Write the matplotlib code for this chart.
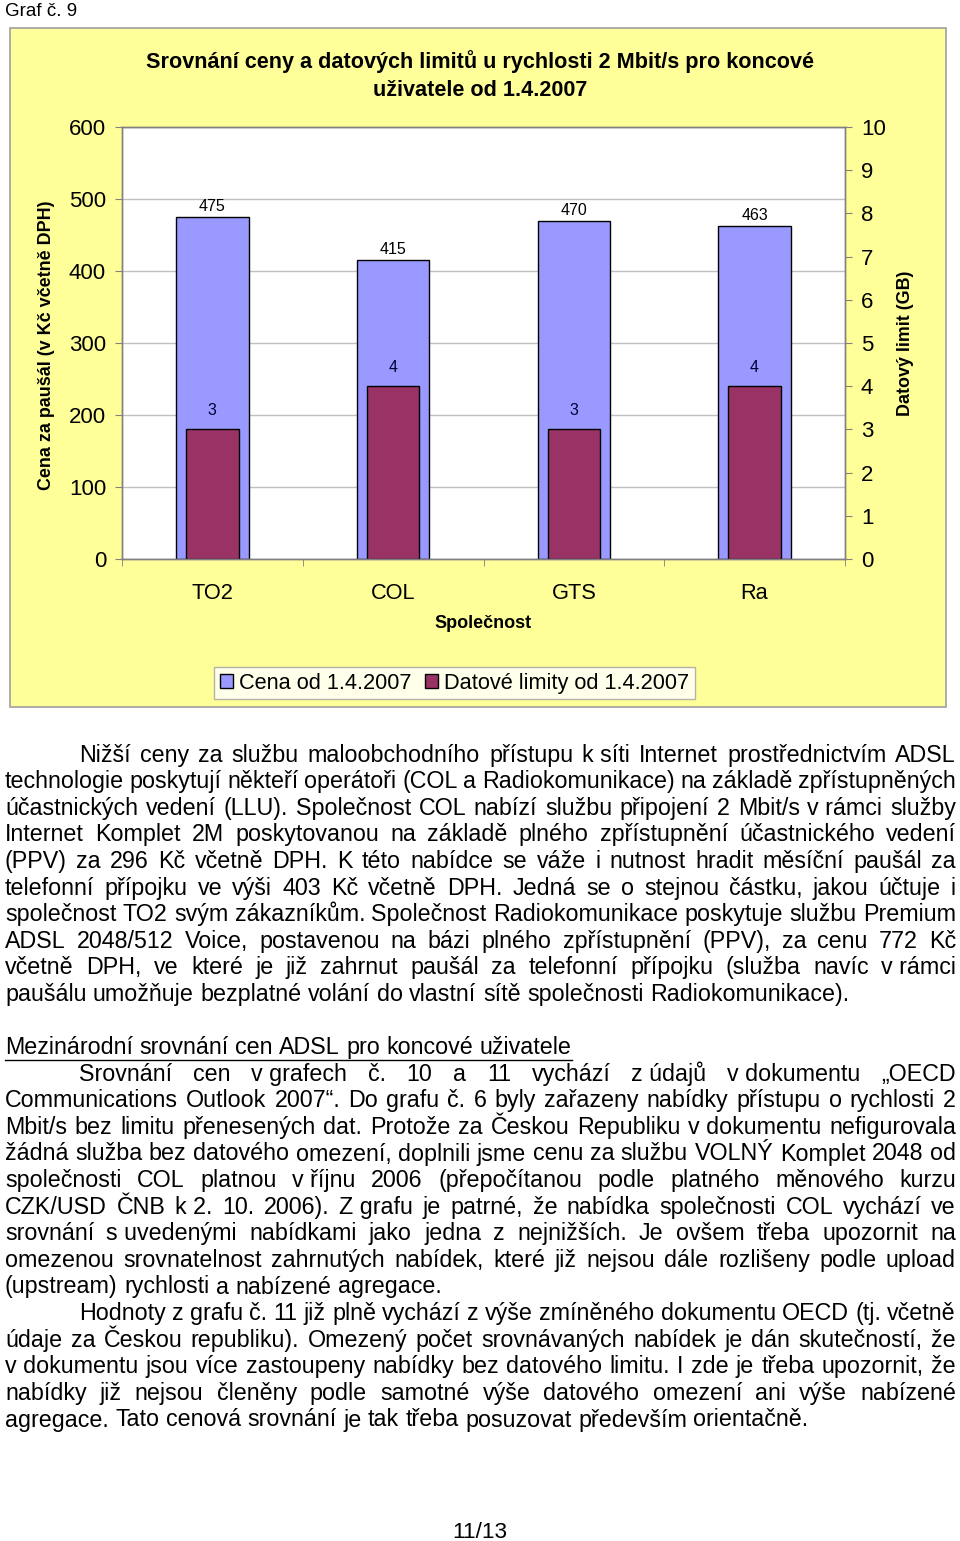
import matplotlib
matplotlib.use("Agg")
import matplotlib.pyplot as plt
from matplotlib.patches import Rectangle
import numpy as np

W, H = 960, 1541

# data of the chart
spolecnosti = ["TO2", "COL", "GTS", "Ra"]
cena = [475, 415, 470, 463]
limity = [3, 4, 3, 4]
cena_ticks = [0, 100, 200, 300, 400, 500, 600]
limit_ticks = list(range(11))

titulek = ["Srovnání ceny a datových limitů u rychlosti 2 Mbit/s pro koncové",
           "uživatele od 1.4.2007"]
legenda = ["Cena od 1.4.2007", "Datové limity od 1.4.2007"]

# page text, line by line as in the document
odstavec1 = [
    "Nižší ceny za službu maloobchodního přístupu k\u00a0síti Internet prostřednictvím ADSL",
    "technologie poskytují někteří operátoři (COL a Radiokomunikace) na základě zpřístupněných",
    "účastnických vedení (LLU). Společnost COL nabízí službu připojení 2 Mbit/s v\u00a0rámci služby",
    "Internet Komplet 2M poskytovanou na základě plného zpřístupnění účastnického vedení",
    "(PPV) za 296 Kč včetně DPH. K této nabídce se váže i nutnost hradit měsíční paušál za",
    "telefonní přípojku ve výši 403 Kč včetně DPH. Jedná se o stejnou částku, jakou účtuje i",
    "společnost TO2 svým zákazníkům. Společnost Radiokomunikace poskytuje službu Premium",
    "ADSL 2048/512 Voice, postavenou na bázi plného zpřístupnění (PPV), za cenu 772 Kč",
    "včetně DPH, ve které je již zahrnut paušál za telefonní přípojku (služba navíc v\u00a0rámci",
    "paušálu umožňuje bezplatné volání do vlastní sítě společnosti Radiokomunikace).",
]
nadpis = "Mezinárodní srovnání cen ADSL pro koncové uživatele"
odstavec2 = [
    "Srovnání cen v\u00a0grafech č. 10 a 11 vychází z\u00a0údajů v\u00a0dokumentu „OECD",
    "Communications Outlook 2007“. Do grafu č. 6 byly zařazeny nabídky přístupu o rychlosti 2",
    "Mbit/s bez limitu přenesených dat. Protože za Českou Republiku v\u00a0dokumentu nefigurovala",
    "žádná služba bez datového omezení, doplnili jsme cenu za službu VOLNÝ Komplet 2048 od",
    "společnosti COL platnou v\u00a0říjnu 2006 (přepočítanou podle platného měnového kurzu",
    "CZK/USD ČNB k\u00a02. 10. 2006). Z\u00a0grafu je patrné, že nabídka společnosti COL vychází ve",
    "srovnání s\u00a0uvedenými nabídkami jako jedna z nejnižších. Je ovšem třeba upozornit na",
    "omezenou srovnatelnost zahrnutých nabídek, které již nejsou dále rozlišeny podle upload",
    "(upstream) rychlosti a nabízené agregace.",
]
odstavec3 = [
    "Hodnoty z grafu č. 11 již plně vychází z výše zmíněného dokumentu OECD (tj. včetně",
    "údaje za Českou republiku). Omezený počet srovnávaných nabídek je dán skutečností, že",
    "v\u00a0dokumentu jsou více zastoupeny nabídky bez datového limitu. I zde je třeba upozornit, že",
    "nabídky již nejsou členěny podle samotné výše datového omezení ani výše nabízené",
    "agregace. Tato cenová srovnání je tak třeba posuzovat především orientačně.",
]

CHART_FONT = ["Liberation Sans", "DejaVu Sans"]
TEXT_FONT = ["Liberation Sans", "DejaVu Sans"]
plt.rcParams["font.family"] = CHART_FONT

fig = plt.figure(figsize=(W / 100, H / 100), dpi=100)
fig.patch.set_facecolor("white")

# page axes in pixel units
page = fig.add_axes([0, 0, 1, 1])
page.set_xlim(0, W)
page.set_ylim(H, 0)
page.axis("off")
page.add_patch(Rectangle((10, 28), 936, 679, facecolor="#FFFF99",
                         edgecolor="#A0A0A0", lw=1.2))

# chart
L, R, T, B = 122, 845, 127, 559
ax1 = fig.add_axes([L / W, 1 - B / H, (R - L) / W, (B - T) / H])
ax1.set_facecolor("white")
x = np.arange(len(spolecnosti))
b1 = ax1.bar(x, cena, width=0.40, color="#9999FF", edgecolor="black",
             lw=1, zorder=2, label=legenda[0])
ax1.set_ylim(0, 600)
ax1.set_xlim(-0.5, len(spolecnosti) - 0.5)
ax1.set_yticks(cena_ticks)
ax1.yaxis.grid(True, color="#C0C0C0", lw=1)
ax1.set_axisbelow(True)
for xi, v in zip(x, cena):
    ax1.annotate(str(v), (xi, v), xytext=(0, 7.5), textcoords="offset points",
                 ha="center", va="center", fontsize=11.5)

ax2 = ax1.twinx()
b2 = ax2.bar(x, limity, width=0.29, color="#993366", edgecolor="black",
             lw=1, zorder=2, label=legenda[1])
ax2.set_ylim(0, 10)
ax2.set_yticks(limit_ticks)
for xi, v in zip(x, limity):
    ax2.annotate(str(v), (xi, v), xytext=(0, 13.5), textcoords="offset points",
                 ha="center", va="center", fontsize=11.5, color="#000033")

for a in (ax1, ax2):
    for s in a.spines.values():
        s.set_color("#808080")
        s.set_linewidth(1)

ax1.set_xticks(x)
ax1.set_xticklabels(spolecnosti)
ax1.set_xticks(np.arange(-0.5, len(spolecnosti)), minor=True)
ax1.tick_params(axis="x", which="major", length=0, labelsize=15.7, pad=17)
ax1.tick_params(axis="x", which="minor", length=5, color="#808080", direction="out")
ax1.tick_params(axis="y", length=5, color="#808080", labelsize=16, pad=6.5)
ax2.tick_params(axis="y", length=5, color="#808080", labelsize=16, pad=6.5)

# chart texts
page.text(480, 62, titulek[0], ha="center", va="center", fontsize=15.6, fontweight="bold")
page.text(480, 90, titulek[1], ha="center", va="center", fontsize=15.6, fontweight="bold")
page.text(483, 623, "Společnost", ha="center", va="center", fontsize=13, fontweight="bold")
page.text(47, 345, "Cena za paušál (v Kč včetně DPH)", ha="center", va="center",
          rotation=90, fontsize=12.9, fontweight="bold")
page.text(906, 343, "Datový limit (GB)", ha="center", va="center",
          rotation=90, fontsize=12.9, fontweight="bold")

leg = fig.legend([b1, b2], legenda, loc="center", ncol=2,
                 bbox_to_anchor=(454.5 / W, 1 - 683 / H), fontsize=15.7,
                 frameon=True, fancybox=False, edgecolor="#A0A0A0",
                 handlelength=0.6, handleheight=0.6, handletextpad=0.3,
                 columnspacing=0.6, borderpad=0.25, borderaxespad=0)
leg.get_frame().set_linewidth(1)

# page texts
page.text(5, 11, "Graf č. 9", ha="left", va="center", fontsize=13.5, family=TEXT_FONT)
page.text(480, 1532, "11/13", ha="center", va="center", fontsize=16.2, family=TEXT_FONT)

renderer = fig.canvas.get_renderer()
FS = 16.75
X0, X1, INDENT = 5, 956, 79
Y0, STEP = 755, 26.6


def text_width(s):
    t = page.text(0, 0, s, fontsize=FS, family=TEXT_FONT)
    w = t.get_window_extent(renderer).width
    t.remove()
    return w


space = text_width("a a") - text_width("aa")


def put_line(line, y, x0, justify):
    words = line.split(" ")
    texts = [page.text(0, y, w, ha="left", va="center", fontsize=FS,
                       family=TEXT_FONT) for w in words]
    widths = [t.get_window_extent(renderer).width for t in texts]
    gap = space
    if justify and len(words) > 1:
        gap = (X1 - x0 - sum(widths)) / (len(words) - 1)
    pos = x0
    for t, w in zip(texts, widths):
        t.set_x(pos)
        pos += w + gap
    return pos - gap


def put_paragraph(lines, k0):
    for i, line in enumerate(lines):
        x0 = INDENT if i == 0 else X0
        put_line(line, Y0 + STEP * (k0 + i), x0, i < len(lines) - 1)


put_paragraph(odstavec1, 0)
yn = Y0 + STEP * 11
xe = put_line(nadpis, yn, X0, False)
page.plot([X0, xe], [yn + 12, yn + 12], color="black", lw=1)
put_paragraph(odstavec2, 12)
put_paragraph(odstavec3, 21)

fig.savefig("out.png", dpi=100, facecolor="white")
